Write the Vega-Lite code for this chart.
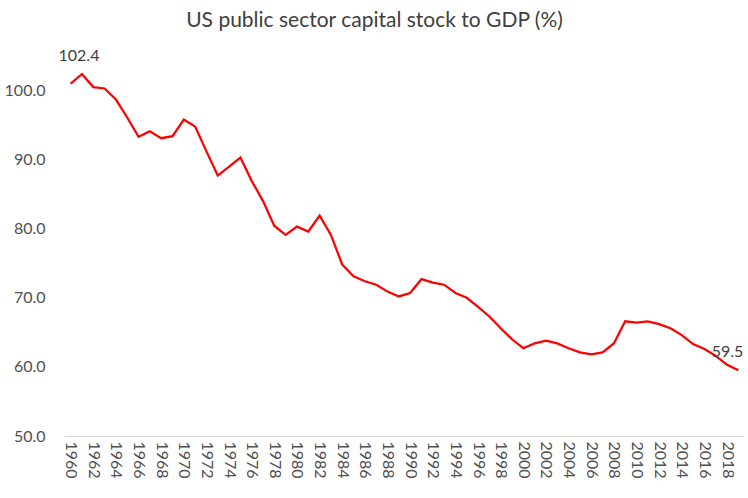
{
  "$schema": "https://vega.github.io/schema/vega-lite/v6.json",
  "autosize": "none",
  "width": 679,
  "height": 380,
  "padding": {"left": 65, "top": 56, "right": 4, "bottom": 62},
  "background": "white",
  "config": {"view": {"stroke": null}, "font": "Lato"},
  "title": {"text": "US public sector capital stock to GDP (%)", "font": "Lato", "fontSize": 21, "fontWeight": "normal", "color": "#404040", "anchor": "middle", "dx": -30, "offset": 17},
  "data": {"values": [
    {"year": 1960, "value": 101.0}, {"year": 1961, "value": 102.4}, {"year": 1962, "value": 100.5}, {"year": 1963, "value": 100.3},
    {"year": 1964, "value": 98.7}, {"year": 1965, "value": 96.1}, {"year": 1966, "value": 93.3}, {"year": 1967, "value": 94.1},
    {"year": 1968, "value": 93.1}, {"year": 1969, "value": 93.4}, {"year": 1970, "value": 95.8}, {"year": 1971, "value": 94.8},
    {"year": 1972, "value": 91.2}, {"year": 1973, "value": 87.7}, {"year": 1974, "value": 89.0}, {"year": 1975, "value": 90.3},
    {"year": 1976, "value": 86.9}, {"year": 1977, "value": 84.0}, {"year": 1978, "value": 80.4}, {"year": 1979, "value": 79.1},
    {"year": 1980, "value": 80.3}, {"year": 1981, "value": 79.6}, {"year": 1982, "value": 81.9}, {"year": 1983, "value": 79.1},
    {"year": 1984, "value": 74.8}, {"year": 1985, "value": 73.1}, {"year": 1986, "value": 72.4}, {"year": 1987, "value": 71.9},
    {"year": 1988, "value": 70.9}, {"year": 1989, "value": 70.2}, {"year": 1990, "value": 70.7}, {"year": 1991, "value": 72.7},
    {"year": 1992, "value": 72.2}, {"year": 1993, "value": 71.9}, {"year": 1994, "value": 70.7}, {"year": 1995, "value": 70.0},
    {"year": 1996, "value": 68.7}, {"year": 1997, "value": 67.3}, {"year": 1998, "value": 65.6}, {"year": 1999, "value": 64.0},
    {"year": 2000, "value": 62.7}, {"year": 2001, "value": 63.4}, {"year": 2002, "value": 63.8}, {"year": 2003, "value": 63.4},
    {"year": 2004, "value": 62.7}, {"year": 2005, "value": 62.1}, {"year": 2006, "value": 61.8}, {"year": 2007, "value": 62.1},
    {"year": 2008, "value": 63.4}, {"year": 2009, "value": 66.6}, {"year": 2010, "value": 66.4}, {"year": 2011, "value": 66.6},
    {"year": 2012, "value": 66.2}, {"year": 2013, "value": 65.6}, {"year": 2014, "value": 64.6}, {"year": 2015, "value": 63.3},
    {"year": 2016, "value": 62.6}, {"year": 2017, "value": 61.6}, {"year": 2018, "value": 60.3}, {"year": 2019, "value": 59.5}
  ]},
  "encoding": {
    "x": {"field": "year", "type": "quantitative", "scale": {"domain": [1959.5, 2019.5], "nice": false, "zero": false},
      "axis": {"title": null, "values": [1960,1962,1964,1966,1968,1970,1972,1974,1976,1978,1980,1982,1984,1986,1988,1990,1992,1994,1996,1998,2000,2002,2004,2006,2008,2010,2012,2014,2016,2018],
        "format": "d", "labelAngle": 90, "labelAlign": "left", "labelBaseline": "middle", "labelFontSize": 16, "labelColor": "#505050", "labelFont": "Lato",
        "grid": false, "ticks": false, "domain": true, "domainColor": "#d9d9d9", "domainWidth": 1, "labelPadding": 5, "labelOverlap": false, "labelFlush": false}},
    "y": {"field": "value", "type": "quantitative", "scale": {"domain": [50, 105], "nice": false, "zero": false},
      "axis": {"title": null, "values": [50, 60, 70, 80, 90, 100], "format": ".1f", "labelFontSize": 16, "labelColor": "#505050", "labelFont": "Lato",
        "grid": false, "ticks": false, "domain": false, "labelPadding": 20}}
  },
  "layer": [
    {"mark": {"type": "line", "color": "#ff0000", "strokeWidth": 2.25, "clip": false}},
    {"transform": [{"filter": "datum.year == 1961"}],
      "mark": {"type": "text", "dy": -18, "dx": -3, "align": "center", "baseline": "middle", "fontSize": 16, "color": "#404040", "font": "Lato"},
      "encoding": {"text": {"field": "value", "type": "quantitative", "format": ".1f"}}},
    {"transform": [{"filter": "datum.year == 2019"}],
      "mark": {"type": "text", "dy": -18, "dx": 5, "align": "right", "baseline": "middle", "fontSize": 16, "color": "#404040", "font": "Lato"},
      "encoding": {"text": {"field": "value", "type": "quantitative", "format": ".1f"}}}
  ]
}
